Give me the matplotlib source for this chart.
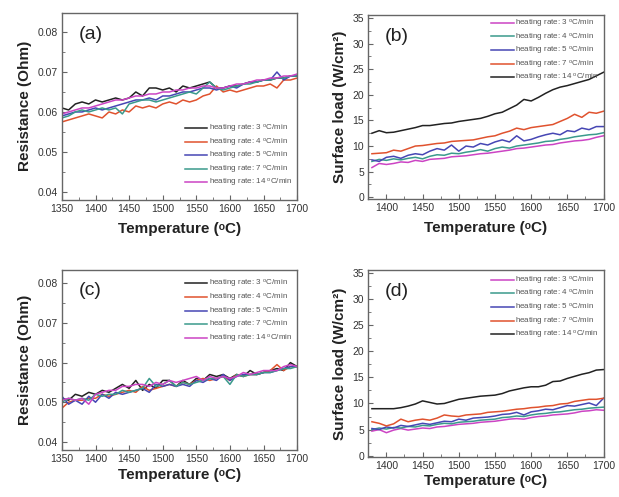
import matplotlib
matplotlib.use("Agg")
import matplotlib.pyplot as plt
from matplotlib.ticker import MultipleLocator

plt.rcParams["font.family"] = ["Liberation Sans", "DejaVu Sans"]
plt.rcParams["mathtext.default"] = "regular"

# ---- data -------------------------------------------------------------
temp_ac = list(range(1350, 1701, 10))   # 36 points
temp_bd = list(range(1380, 1701, 10))   # 33 points

rates = ["3", "4", "5", "7", "14"]

# (a) resistance, order 3, 4, 5, 7, 14
res_a_3 = [0.0610, 0.0605, 0.0620, 0.0625, 0.0620, 0.0630, 0.0625, 0.0630, 0.0635, 0.0630,
           0.0635, 0.0650, 0.0640, 0.0660, 0.0660, 0.0655, 0.0660, 0.0650, 0.0665, 0.0660,
           0.0665, 0.0670, 0.0675, 0.0660, 0.0660, 0.0665, 0.0665, 0.0670, 0.0675, 0.0675,
           0.0680, 0.0680, 0.0685, 0.0685, 0.0690, 0.0690]
res_a_4 = [0.0575, 0.0580, 0.0585, 0.0590, 0.0595, 0.0590, 0.0585, 0.0600, 0.0595, 0.0605,
           0.0600, 0.0615, 0.0610, 0.0615, 0.0610, 0.0620, 0.0625, 0.0620, 0.0630, 0.0625,
           0.0630, 0.0640, 0.0645, 0.0665, 0.0650, 0.0655, 0.0650, 0.0655, 0.0660, 0.0665,
           0.0665, 0.0670, 0.0660, 0.0680, 0.0680, 0.0685]
res_a_5 = [0.0590, 0.0595, 0.0600, 0.0600, 0.0605, 0.0610, 0.0605, 0.0610, 0.0615, 0.0620,
           0.0625, 0.0630, 0.0630, 0.0635, 0.0630, 0.0640, 0.0640, 0.0645, 0.0650, 0.0650,
           0.0655, 0.0660, 0.0660, 0.0655, 0.0660, 0.0665, 0.0660, 0.0670, 0.0675, 0.0675,
           0.0680, 0.0680, 0.0700, 0.0680, 0.0690, 0.0690]
res_a_7 = [0.0585, 0.0590, 0.0600, 0.0605, 0.0600, 0.0605, 0.0610, 0.0605, 0.0610, 0.0595,
           0.0620, 0.0625, 0.0630, 0.0630, 0.0625, 0.0630, 0.0635, 0.0640, 0.0645, 0.0650,
           0.0645, 0.0660, 0.0675, 0.0660, 0.0655, 0.0660, 0.0665, 0.0670, 0.0670, 0.0675,
           0.0680, 0.0680, 0.0685, 0.0685, 0.0690, 0.0690]
res_a_14 = [0.0595, 0.0600, 0.0605, 0.0610, 0.0610, 0.0615, 0.0620, 0.0625, 0.0630, 0.0630,
            0.0635, 0.0640, 0.0640, 0.0645, 0.0645, 0.0650, 0.0650, 0.0655, 0.0655, 0.0660,
            0.0660, 0.0665, 0.0665, 0.0660, 0.0660, 0.0665, 0.0670, 0.0670, 0.0675, 0.0680,
            0.0680, 0.0685, 0.0685, 0.0690, 0.0690, 0.0695]

# (c) resistance, order 3, 4, 5, 7, 14
res_c_3 = [0.0510, 0.0505, 0.0520, 0.0515, 0.0525, 0.0520, 0.0530, 0.0525, 0.0535, 0.0545,
           0.0535, 0.0555, 0.0530, 0.0545, 0.0535, 0.0555, 0.0555, 0.0540, 0.0555, 0.0545,
           0.0560, 0.0555, 0.0570, 0.0565, 0.0570, 0.0560, 0.0570, 0.0565, 0.0580, 0.0570,
           0.0575, 0.0580, 0.0585, 0.0580, 0.0600, 0.0590]
res_c_4 = [0.0485, 0.0500, 0.0505, 0.0505, 0.0510, 0.0510, 0.0520, 0.0515, 0.0520, 0.0525,
           0.0530, 0.0525, 0.0540, 0.0530, 0.0535, 0.0540, 0.0545, 0.0540, 0.0550, 0.0545,
           0.0555, 0.0560, 0.0555, 0.0560, 0.0565, 0.0555, 0.0570, 0.0565, 0.0570, 0.0570,
           0.0575, 0.0580, 0.0595, 0.0580, 0.0590, 0.0590]
res_c_5 = [0.0515, 0.0495, 0.0505, 0.0495, 0.0515, 0.0500, 0.0520, 0.0510, 0.0525, 0.0520,
           0.0525, 0.0530, 0.0535, 0.0525, 0.0545, 0.0540, 0.0545, 0.0540, 0.0545, 0.0540,
           0.0555, 0.0550, 0.0560, 0.0555, 0.0570, 0.0555, 0.0565, 0.0570, 0.0570, 0.0570,
           0.0575, 0.0575, 0.0580, 0.0585, 0.0590, 0.0590]
res_c_7 = [0.0500, 0.0510, 0.0505, 0.0510, 0.0505, 0.0520, 0.0515, 0.0520, 0.0520, 0.0530,
           0.0525, 0.0530, 0.0535, 0.0560, 0.0540, 0.0545, 0.0555, 0.0540, 0.0550, 0.0545,
           0.0550, 0.0555, 0.0560, 0.0560, 0.0565, 0.0545, 0.0570, 0.0565, 0.0570, 0.0570,
           0.0575, 0.0575, 0.0580, 0.0585, 0.0585, 0.0590]
res_c_14 = [0.0505, 0.0510, 0.0505, 0.0510, 0.0495, 0.0520, 0.0525, 0.0530, 0.0530, 0.0540,
            0.0540, 0.0545, 0.0545, 0.0540, 0.0550, 0.0545, 0.0555, 0.0550, 0.0555, 0.0560,
            0.0565, 0.0555, 0.0565, 0.0560, 0.0565, 0.0560, 0.0565, 0.0575, 0.0570, 0.0575,
            0.0580, 0.0580, 0.0580, 0.0590, 0.0595, 0.0590]

# (b) surface load, order 3, 4, 5, 7, 14
load_b_3 = [5.8, 6.6, 6.4, 6.6, 6.9, 6.8, 7.2, 7.0, 7.4, 7.5, 7.6, 7.9, 8.0, 8.1, 8.3, 8.5, 8.6,
            8.8, 9.0, 9.2, 9.5, 9.6, 9.8, 10.0, 10.2, 10.3, 10.6, 10.8, 11.0, 11.1, 11.3, 11.7, 12.0]
load_b_4 = [7.0, 7.4, 7.2, 7.5, 7.3, 7.6, 7.8, 7.5, 8.0, 8.3, 8.2, 8.6, 8.5, 8.8, 9.0, 9.3, 9.0,
            9.5, 9.8, 9.6, 10.0, 10.2, 10.4, 10.6, 10.9, 11.0, 11.3, 11.5, 11.8, 12.0, 12.2, 12.3, 12.6]
load_b_5 = [7.3, 7.0, 7.8, 8.0, 7.6, 8.2, 8.5, 8.3, 9.0, 9.5, 9.2, 10.2, 9.0, 10.0, 9.8, 10.5, 10.2,
            10.8, 11.2, 10.8, 12.0, 11.0, 11.3, 11.8, 12.2, 12.5, 12.2, 13.0, 12.8, 13.5, 13.2, 13.8, 13.8]
load_b_7 = [8.5, 8.6, 8.7, 9.2, 9.0, 9.5, 10.0, 10.1, 10.3, 10.5, 10.6, 10.9, 11.0, 11.1, 11.2, 11.5, 11.8,
            12.0, 12.5, 12.9, 13.5, 13.2, 13.6, 13.8, 14.0, 14.2, 14.8, 15.4, 16.2, 15.6, 16.6, 16.4, 16.8]
load_b_14 = [12.5, 13.0, 12.6, 12.7, 13.0, 13.3, 13.6, 14.0, 14.0, 14.2, 14.4, 14.5, 14.8, 15.0, 15.2, 15.4, 15.8,
             16.3, 16.6, 17.3, 18.0, 19.1, 18.8, 19.5, 20.3, 21.0, 21.5, 21.8, 22.2, 22.6, 23.0, 23.7, 24.4]

# (d) surface load, order 3, 4, 5, 7, 14
load_d_3 = [4.7, 5.0, 4.4, 4.9, 5.2, 4.9, 5.1, 5.3, 5.2, 5.5, 5.6, 5.8, 6.0, 6.1, 6.2, 6.4, 6.5,
            6.6, 6.8, 7.0, 7.1, 7.0, 7.3, 7.5, 7.6, 7.8, 7.9, 8.0, 8.2, 8.5, 8.6, 8.8, 8.7]
load_d_4 = [5.0, 5.3, 5.1, 5.4, 5.3, 5.6, 5.5, 5.8, 5.7, 6.0, 6.2, 6.1, 6.4, 6.5, 6.6, 6.8, 6.9,
            7.0, 7.3, 7.4, 7.6, 7.5, 7.8, 8.0, 8.1, 8.3, 8.4, 8.6, 8.8, 8.9, 9.1, 9.2, 9.3]
load_d_5 = [5.2, 5.0, 5.5, 5.3, 5.8, 5.6, 5.9, 6.2, 6.0, 6.3, 6.6, 6.5, 7.0, 6.8, 7.2, 7.3, 7.4,
            7.6, 7.9, 8.0, 8.3, 7.8, 8.4, 8.6, 8.9, 8.8, 9.2, 9.6, 9.5, 9.8, 10.1, 9.6, 11.0]
load_d_7 = [6.5, 6.2, 5.7, 6.1, 7.0, 6.5, 6.8, 7.0, 6.8, 7.2, 7.8, 7.6, 7.5, 7.8, 7.9, 8.0, 8.3,
            8.4, 8.5, 8.7, 8.9, 9.0, 9.2, 9.3, 9.5, 9.6, 9.9, 10.0, 10.4, 10.6, 10.8, 10.8, 11.0]
load_d_14 = [9.0, 9.0, 9.0, 9.0, 9.2, 9.5, 9.9, 10.5, 10.2, 9.9, 10.0, 10.4, 10.8, 11.0, 11.2, 11.4, 11.5,
             11.6, 11.9, 12.4, 12.7, 13.0, 13.2, 13.2, 13.5, 14.2, 14.3, 14.8, 15.2, 15.6, 15.9, 16.4, 16.5]

# ---- style ------------------------------------------------------------
BLACK = "#222222"
RED = "#e0522e"
BLUE = "#4646b4"
TEAL = "#3a9a8c"
MAGENTA = "#cc44c4"
FRAME = "#666666"

colors_ac = [BLACK, RED, BLUE, TEAL, MAGENTA]
colors_bd = [MAGENTA, TEAL, BLUE, RED, BLACK]

fig = plt.figure(figsize=(6.19, 4.97), dpi=100)

axes_pos = {
    "a": [0.100, 0.598, 0.380, 0.376],
    "b": [0.595, 0.600, 0.380, 0.370],
    "c": [0.100, 0.095, 0.380, 0.362],
    "d": [0.595, 0.080, 0.380, 0.377],
}

TEMP_LABEL = "Temperature (ᵒC)"


def style_axes(ax, xpad):
    for spine in ax.spines.values():
        spine.set_color(FRAME)
        spine.set_linewidth(1.0)
    ax.tick_params(which="both", direction="in", color=FRAME, top=False, right=False,
                   labelsize=7.5, labelcolor="#333333", pad=3)
    ax.tick_params(which="major", length=3.5)
    ax.tick_params(which="minor", length=2)
    ax.set_xlabel(TEMP_LABEL, fontsize=11, fontweight="bold", color="#222222", labelpad=xpad)


def draw_panel(key, x, series, colors, ylabel, legend_loc, legend_anchor, xpad=6):
    ax = fig.add_axes(axes_pos[key])
    for rate, y, c in zip(rates, series, colors):
        ax.plot(x, y, color=c, linewidth=1.1, label=f"heating rate: {rate} $^o$C/min")
    style_axes(ax, xpad)
    ax.set_ylabel(ylabel, fontsize=11, fontweight="bold", color="#222222", labelpad=4)
    ax.text(0.07, 0.93, f"({key})", transform=ax.transAxes, fontsize=14,
            ha="left", va="top", color="#222222")
    leg = ax.legend(loc=legend_loc, bbox_to_anchor=legend_anchor, frameon=False, fontsize=5.8,
                    handlelength=2.8, handletextpad=0.2, labelspacing=0.2, borderaxespad=0.2)
    for t in leg.get_texts():
        t.set_color("#555555")
    return ax


ax_a = draw_panel("a", temp_ac, [res_a_3, res_a_4, res_a_5, res_a_7, res_a_14], colors_ac,
                  "Resistance (Ohm)", "lower right", (1.0, 0.03))
ax_a.set_xlim(1350, 1700)
ax_a.set_ylim(0.038, 0.0848)
ax_a.xaxis.set_major_locator(MultipleLocator(50))
ax_a.xaxis.set_minor_locator(MultipleLocator(25))
ax_a.yaxis.set_major_locator(MultipleLocator(0.01))
ax_a.yaxis.set_minor_locator(MultipleLocator(0.005))
ax_a.yaxis.set_major_formatter(plt.FormatStrFormatter("%.2f"))

ax_c = draw_panel("c", temp_ac, [res_c_3, res_c_4, res_c_5, res_c_7, res_c_14], colors_ac,
                  "Resistance (Ohm)", "upper right", (1.0, 0.98), xpad=3)
ax_c.set_xlim(1350, 1700)
ax_c.set_ylim(0.038, 0.0834)
ax_c.xaxis.set_major_locator(MultipleLocator(50))
ax_c.xaxis.set_minor_locator(MultipleLocator(25))
ax_c.yaxis.set_major_locator(MultipleLocator(0.01))
ax_c.yaxis.set_minor_locator(MultipleLocator(0.005))
ax_c.yaxis.set_major_formatter(plt.FormatStrFormatter("%.2f"))

ax_b = draw_panel("b", temp_bd, [load_b_3, load_b_4, load_b_5, load_b_7, load_b_14], colors_bd,
                  "Surface load (W/cm²)", "upper right", (1.0, 1.01))
ax_d = draw_panel("d", temp_bd, [load_d_3, load_d_4, load_d_5, load_d_7, load_d_14], colors_bd,
                  "Surface load (W/cm²)", "upper right", (1.0, 1.0), xpad=2)
for ax in (ax_b, ax_d):
    ax.set_xlim(1375, 1700)
    ax.set_ylim(-0.3, 35.6)
    ax.xaxis.set_major_locator(MultipleLocator(50))
    ax.xaxis.set_minor_locator(MultipleLocator(25))
    ax.yaxis.set_major_locator(MultipleLocator(5))
    ax.yaxis.set_minor_locator(MultipleLocator(2.5))

fig.savefig("out.png", dpi=100)
